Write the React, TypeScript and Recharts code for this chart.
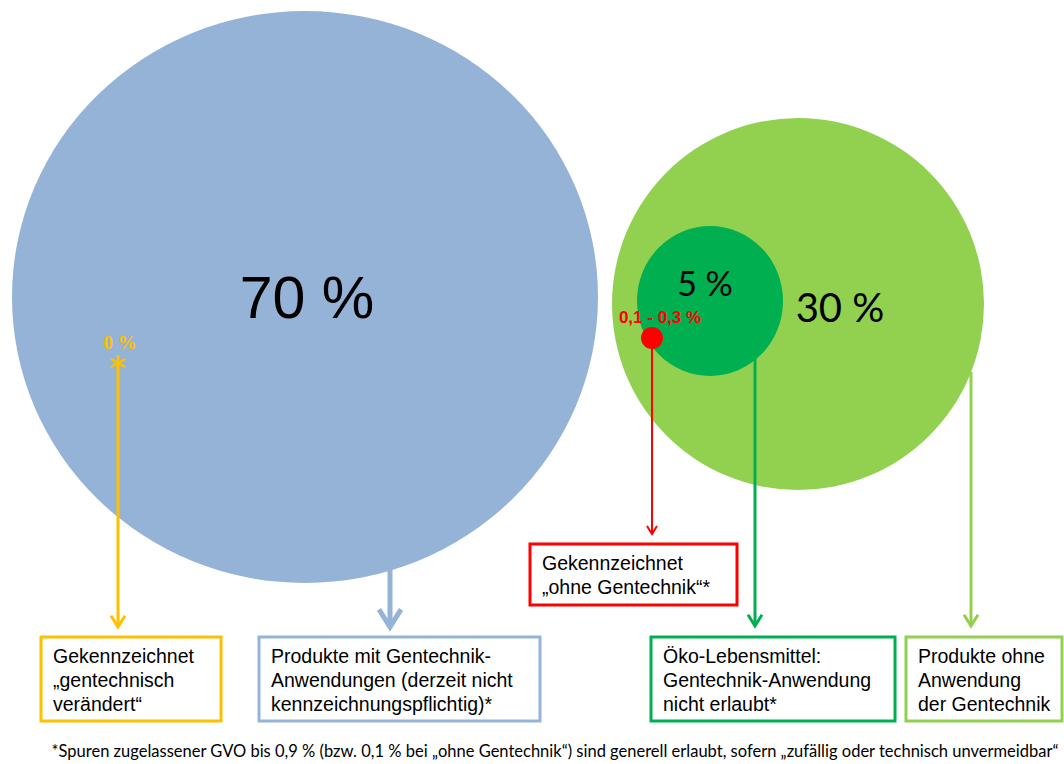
import React from 'react';
import { ScatterChart, Scatter, XAxis, YAxis } from 'recharts';

const W = 1064;
const H = 764;

// Circles (share of products) in diagram units
const circleShares = ['70 %', '30 %', '5 %'];
const circleX = [305, 798, 710];
const circleY = [297, 304, 301];
const circleRx = [293, 186, 73];
const circleRy = [286, 186, 75];
const circleColors = ['#95B3D7', '#92D050', '#00B050'];

// Share labels
const shareLabels = ['70 %', '30 %', '5 %', '0,1 - 0,3 %', '0 %'];
const shareLabelX = [307, 840, 705, 660, 120];
const shareLabelY = [318, 322, 296, 323, 349];

// Small markers: red dot "ohne Gentechnik", yellow asterisk "gentechnisch verändert"
const markerX = [652, 118];
const markerY = [338, 363];

// Arrows
const arrowX = [118, 390, 652, 755, 971];
const arrowStart = [363, 570, 345, 358, 372];
const arrowEnd = [627, 627, 534, 626, 626];
const arrowColors = ['#FFC000', '#95B3D7', '#FF0000', '#00B050', '#92D050'];
const arrowWidths = [3, 5, 2, 3, 3];
const arrowHead = [7, 11, 5, 7, 7];

// Boxes
const boxLines = [
  ['Gekennzeichnet', '„gentechnisch', 'verändert“'],
  ['Produkte mit Gentechnik-', 'Anwendungen (derzeit nicht', 'kennzeichnungspflichtig)*'],
  ['Gekennzeichnet', '„ohne Gentechnik“*'],
  ['Öko-Lebensmittel:', 'Gentechnik-Anwendung', 'nicht erlaubt*'],
  ['Produkte ohne', 'Anwendung', 'der Gentechnik'],
];
const boxX0 = [41, 259, 530, 651, 906];
const boxX1 = [221, 540, 737, 895, 1062];
const boxY0 = [637, 637, 544, 637, 637];
const boxY1 = [721, 721, 605, 721, 721];
const boxColors = ['#FFC000', '#95B3D7', '#FF0000', '#00B050', '#92D050'];

const footnote =
  '*Spuren zugelassener GVO bis 0,9 % (bzw. 0,1 % bei „ohne Gentechnik“) sind generell erlaubt, sofern „zufällig oder technisch unvermeidbar“';

const circleData = circleShares.map((s, i) => ({
  name: s,
  x: circleX[i],
  y: circleY[i],
  rx: circleRx[i],
  ry: circleRy[i],
  color: circleColors[i],
}));

const arrowData = arrowX.map((x, i) => ({
  x,
  y: arrowStart[i],
  y2: arrowEnd[i],
  color: arrowColors[i],
  w: arrowWidths[i],
  head: arrowHead[i],
}));

const markerData = markerX.map((x, i) => ({ x, y: markerY[i], kind: i }));

const labelData = shareLabels.map((t, i) => ({ text: t, x: shareLabelX[i], y: shareLabelY[i], idx: i }));

const boxData = boxLines.map((lines, i) => ({
  x: boxX0[i],
  y: boxY0[i],
  x1: boxX1[i],
  y1: boxY1[i],
  lines,
  color: boxColors[i],
}));

const footData = [{ x: 555, y: 757, text: footnote }];

const CircleShape = (p: any) => {
  const { cx, cy, payload } = p;
  return <ellipse cx={cx} cy={cy} rx={payload.rx} ry={payload.ry} fill={payload.color} />;
};

const ArrowShape = (p: any) => {
  const { cx, cy, payload } = p;
  const yEnd = cy + (payload.y2 - payload.y);
  const h = payload.head;
  return (
    <g stroke={payload.color} strokeWidth={payload.w} fill="none">
      <line x1={cx} y1={cy} x2={cx} y2={yEnd - 1} />
      <polyline points={`${cx - h},${yEnd - h * 1.6} ${cx},${yEnd} ${cx + h},${yEnd - h * 1.6}`} strokeLinejoin="miter" />
    </g>
  );
};

const MarkerShape = (p: any) => {
  const { cx, cy, payload } = p;
  if (payload.kind === 0) {
    return <circle cx={cx} cy={cy} r={11} fill="#FF0000" />;
  }
  const a = 8;
  const dx = a * Math.cos(Math.PI / 6);
  const dy = a * Math.sin(Math.PI / 6);
  return (
    <g stroke="#FFC000" strokeWidth={2.5}>
      <line x1={cx} y1={cy - a} x2={cx} y2={cy + a} />
      <line x1={cx - dx} y1={cy - dy} x2={cx + dx} y2={cy + dy} />
      <line x1={cx - dx} y1={cy + dy} x2={cx + dx} y2={cy - dy} />
    </g>
  );
};

const labelStyles = [
  { fontFamily: 'Liberation Sans, Arial, sans-serif', fontSize: 59, fill: '#000', anchor: 'middle', weight: 400 },
  { fontFamily: 'Lato, sans-serif', fontSize: 40, fill: '#000', anchor: 'middle', weight: 400 },
  { fontFamily: 'Lato, sans-serif', fontSize: 34, fill: '#000', anchor: 'middle', weight: 400 },
  { fontFamily: 'Liberation Sans, Arial, sans-serif', fontSize: 17, fill: '#FF0000', anchor: 'middle', weight: 700 },
  { fontFamily: 'Liberation Serif, serif', fontSize: 19, fill: '#FFC000', anchor: 'middle', weight: 700 },
];

const LabelShape = (p: any) => {
  const { cx, cy, payload } = p;
  const s = labelStyles[payload.idx];
  return (
    <text x={cx} y={cy} textAnchor={s.anchor as any} fontFamily={s.fontFamily} fontSize={s.fontSize} fontWeight={s.weight} fill={s.fill}>
      {payload.text}
    </text>
  );
};

const BoxShape = (p: any) => {
  const { cx, cy, payload } = p;
  const w = payload.x1 - payload.x;
  const h = payload.y1 - payload.y;
  return (
    <g>
      <rect x={cx} y={cy} width={w} height={h} fill="#fff" stroke={payload.color} strokeWidth={3} />
      {payload.lines.map((l: string, i: number) => (
        <text
          key={i}
          x={cx + 12}
          y={cy + 26 + i * 24}
          fontFamily="Liberation Sans, Arial, sans-serif"
          fontSize={19.5}
          fill="#000"
        >
          {l}
        </text>
      ))}
    </g>
  );
};

const FootShape = (p: any) => {
  const { cx, cy, payload } = p;
  return (
    <text x={cx} y={cy} textAnchor="middle" fontFamily="Lato, 'Open Sans', sans-serif" fontSize={16.5} fill="#000">
      {payload.text}
    </text>
  );
};

export default function App() {
  return (
    <div style={{ position: 'absolute', left: 0, top: 0, width: W, height: H, background: '#fff' }}>
      <ScatterChart width={W} height={H} margin={{ top: 0, right: 0, bottom: 0, left: 0 }}>
        <XAxis type="number" dataKey="x" domain={[0, W]} hide allowDataOverflow />
        <YAxis type="number" dataKey="y" domain={[0, H]} reversed hide allowDataOverflow />
        <Scatter data={circleData} shape={CircleShape} isAnimationActive={false} />
        <Scatter data={arrowData} shape={ArrowShape} isAnimationActive={false} />
        <Scatter data={markerData} shape={MarkerShape} isAnimationActive={false} />
        <Scatter data={labelData} shape={LabelShape} isAnimationActive={false} />
        <Scatter data={boxData} shape={BoxShape} isAnimationActive={false} />
        <Scatter data={footData} shape={FootShape} isAnimationActive={false} />
      </ScatterChart>
    </div>
  );
}
